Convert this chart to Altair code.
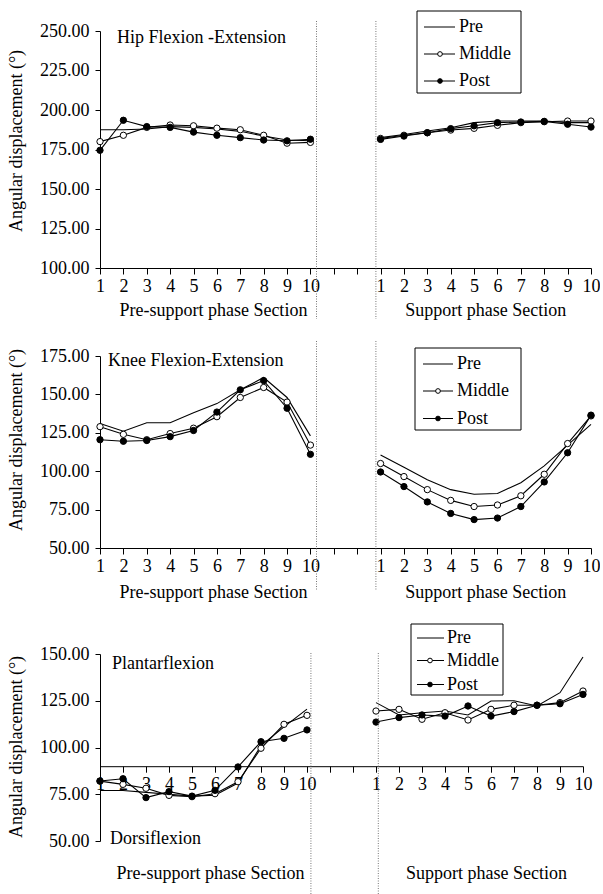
import json
import altair as alt
import pandas as pd

FONT = "Liberation Serif"
FS = 18

series_names = ["Pre", "Middle", "Post"]
pre_support_pos = [1, 2, 3, 4, 5, 6, 7, 8, 9, 10]
support_pos = [13, 14, 15, 16, 17, 18, 19, 20, 21, 22]
tick_positions = list(range(1, 23))
tick_labels = ["1", "2", "3", "4", "5", "6", "7", "8", "9", "10", "", "",
               "1", "2", "3", "4", "5", "6", "7", "8", "9", "10"]
section_titles = ["Pre-support phase Section", "Support phase Section"]
y_title = "Angular displacement (°)"

# ---- Hip ----
hip_ps_pre = [187.5, 187.5, 188.0, 189.5, 189.0, 188.0, 186.5, 183.5, 181.0, 180.5]
hip_ps_mid = [180.0, 184.0, 189.0, 190.5, 190.0, 188.5, 187.5, 184.0, 179.0, 179.5]
hip_ps_post = [174.5, 193.5, 189.5, 189.0, 186.0, 184.0, 182.5, 181.0, 180.5, 181.5]
hip_s_pre = [182.5, 184.5, 186.7, 188.8, 192.0, 193.0, 193.0, 193.0, 192.0, 192.0]
hip_s_mid = [182.0, 184.0, 185.6, 187.3, 188.4, 190.3, 192.0, 192.6, 193.0, 193.0]
hip_s_post = [181.4, 183.5, 185.6, 188.2, 190.0, 192.0, 192.4, 192.8, 191.0, 189.2]

# ---- Knee ----
knee_ps_pre = [131.0, 126.0, 131.5, 131.5, 138.0, 144.0, 153.0, 161.0, 148.0, 123.0]
knee_ps_mid = [129.0, 124.0, 120.5, 124.5, 128.0, 135.5, 148.0, 154.5, 145.0, 117.0]
knee_ps_post = [120.5, 119.5, 120.0, 122.5, 126.5, 138.5, 153.0, 159.0, 141.0, 111.0]
knee_s_pre = [110.5, 102.5, 94.5, 88.0, 85.0, 85.5, 92.5, 103.5, 117.0, 130.5]
knee_s_mid = [105.0, 96.5, 88.0, 81.0, 77.0, 78.0, 84.0, 98.0, 118.0, 136.0]
knee_s_post = [99.5, 90.0, 80.0, 72.5, 68.5, 69.5, 77.0, 93.0, 112.0, 136.5]

# ---- Ankle ----
ank_ps_pre = [77.0, 77.0, 76.0, 75.0, 74.0, 74.5, 81.0, 101.0, 111.0, 120.5]
ank_ps_mid = [82.0, 80.3, 78.2, 74.4, 73.7, 75.3, 81.7, 99.6, 112.4, 117.2]
ank_ps_post = [82.1, 83.3, 73.2, 76.4, 74.0, 77.1, 89.6, 103.1, 104.9, 109.4]
ank_s_pre = [124.0, 117.4, 118.6, 119.5, 117.4, 124.9, 125.0, 122.2, 129.3, 148.4]
ank_s_mid = [119.5, 120.4, 115.1, 118.6, 114.7, 120.4, 122.6, 122.6, 124.0, 130.2]
ank_s_post = [113.6, 116.0, 117.4, 116.8, 122.2, 116.8, 119.2, 122.6, 123.4, 128.4]

hip_ticks = [100, 125, 150, 175, 200, 225, 250]
knee_ticks = [50, 75, 100, 125, 150, 175]
ank_ticks = [50, 75, 100, 125, 150]

label_expr = json.dumps(tick_labels) + "[datum.value - 1]"


def make_df(ps, s):
    rows = []
    for name, vals in zip(series_names, ps):
        for p, v in zip(pre_support_pos, vals):
            rows.append({"pos": p, "val": v, "series": name, "seg": name + "_a"})
    for name, vals in zip(series_names, s):
        for p, v in zip(support_pos, vals):
            rows.append({"pos": p, "val": v, "series": name, "seg": name + "_b"})
    return pd.DataFrame(rows)


one = pd.DataFrame({"k": [0]})


def panel(df, width, height, y_domain, y_ticks, y_range, x_offset, dividers,
          div_y, sec_x, sec_y, ytitle_y, labels, legend):
    X = alt.X("pos:Q", scale=alt.Scale(domain=[1, 22], nice=False, zero=False),
              axis=alt.Axis(values=tick_positions, labelExpr=label_expr, title=None,
                            grid=False, labelOverlap=False, labelFlush=False,
                            tickSize=6, labelPadding=3, offset=x_offset))
    sc = dict(domain=y_domain, nice=False, zero=False)
    if y_range is not None:
        sc["range"] = y_range
    Y = alt.Y("val:Q", scale=alt.Scale(**sc),
              axis=alt.Axis(values=y_ticks, format=".2f", title=None, grid=False,
                            tickSize=5, labelPadding=6, labelOverlap=False))
    layers = []
    layers.append(alt.Chart(df).mark_line(color="black", strokeWidth=1.1).encode(
        x=X, y=Y, detail="seg:N", order="pos:Q"))
    layers.append(alt.Chart(df).transform_filter("datum.series != 'Pre'").mark_point(
        shape="circle", filled=True, size=40, stroke="black", strokeWidth=1, opacity=1
    ).encode(x=X, y=Y, fill=alt.Fill("series:N", scale=alt.Scale(
        domain=["Middle", "Post"], range=["white", "black"]), legend=None)))
    layers.append(alt.Chart(pd.DataFrame({"pos": dividers})).mark_rule(
        color="#777", strokeDash=[1, 1.5], strokeWidth=1).encode(
        x=X, y=alt.value(div_y[0]), y2=alt.value(div_y[1])))
    layers.append(alt.Chart(pd.DataFrame({"pos": sec_x, "label": section_titles})).mark_text(
        font=FONT, fontSize=FS, baseline="middle", align="center", color="black").encode(
        x=X, y=alt.value(sec_y), text="label:N"))
    layers.append(alt.Chart(pd.DataFrame({"t": [y_title]})).mark_text(
        font=FONT, fontSize=FS, angle=270, align="center", baseline="middle", color="black").encode(
        x=alt.value(-83), y=alt.value(ytitle_y), text="t:N"))
    for txt, lx, ly in labels:
        layers.append(alt.Chart(pd.DataFrame({"t": [txt]})).mark_text(
            font=FONT, fontSize=FS, align="left", baseline="middle", color="black").encode(
            x=alt.value(lx), y=alt.value(ly), text="t:N"))
    # legend
    (bx0, bx1, by0, by1), rows, (lx0, lx1), cx, tx = legend
    layers.append(alt.Chart(one).mark_rect(fill="white", stroke="black", strokeWidth=1).encode(
        x=alt.value(bx0), x2=alt.value(bx1), y=alt.value(by0), y2=alt.value(by1)))
    for name, ry in zip(series_names, rows):
        layers.append(alt.Chart(one).mark_rule(color="black", strokeWidth=1).encode(
            x=alt.value(lx0), x2=alt.value(lx1), y=alt.value(ry)))
        if name != "Pre":
            layers.append(alt.Chart(one).mark_point(
                shape="circle", filled=True, size=22, stroke="black", strokeWidth=1, opacity=1,
                fill=("white" if name == "Middle" else "black")).encode(
                x=alt.value(cx), y=alt.value(ry)))
        layers.append(alt.Chart(pd.DataFrame({"t": [name]})).mark_text(
            font=FONT, fontSize=FS, align="left", baseline="middle", color="black").encode(
            x=alt.value(tx), y=alt.value(ry), text="t:N"))
    return alt.layer(*layers).properties(width=width, height=height)


hip_df = make_df([hip_ps_pre, hip_ps_mid, hip_ps_post], [hip_s_pre, hip_s_mid, hip_s_post])
knee_df = make_df([knee_ps_pre, knee_ps_mid, knee_ps_post], [knee_s_pre, knee_s_mid, knee_s_post])
ank_df = make_df([ank_ps_pre, ank_ps_mid, ank_ps_post], [ank_s_pre, ank_s_mid, ank_s_post])

p1 = panel(hip_df, 491, 237, [100, 250], hip_ticks, None, 0, [10.26, 12.8],
           (-10, 288), [5.85, 17.5], 280, 110,
           [("Hip Flexion -Extension", 17, 7)],
           ((317, 421, -20, 62), [-4, 23, 50], (324, 355), 340, 359))

p2 = panel(knee_df, 491, 192, [50, 175], knee_ticks, None, 0, [10.26, 12.8],
           (-15, 235), [5.85, 17.5], 237, 84,
           [("Knee Flexion-Extension", 8, 5)],
           ((315, 421, -8, 74), [8, 35, 62.5], (323, 353), 338, 357))

ank_plot_h = 187
ank_top = 18
ank_cross = 90
x_off3 = -(ank_cross - ank_ticks[0]) / (ank_ticks[-1] - ank_ticks[0]) * ank_plot_h
p3 = panel(ank_df, 483, ank_plot_h + ank_top, [50, 150], ank_ticks,
           [ank_plot_h + ank_top, ank_top], x_off3, [10.17, 13.1],
           (17, 259), [5.8, 17.8], 238, 111,
           [("Plantarflexion", 12, 28), ("Dorsiflexion", 10, 203)],
           ((311, 403, -12, 59), [2, 24.5, 48.5], (317, 344), 330, 347))

chart = alt.vconcat(p1, p2, p3, spacing=88, bounds="flush").properties(
    padding={"left": 8, "top": 10, "right": 0, "bottom": 0}
).configure_view(stroke=None).configure_axis(
    labelFont=FONT, labelFontSize=FS, labelColor="black", domainColor="black",
    tickColor="black", domainWidth=1, tickWidth=1
)

chart.save("out.html", embed_options={"renderer": "svg", "actions": False})
